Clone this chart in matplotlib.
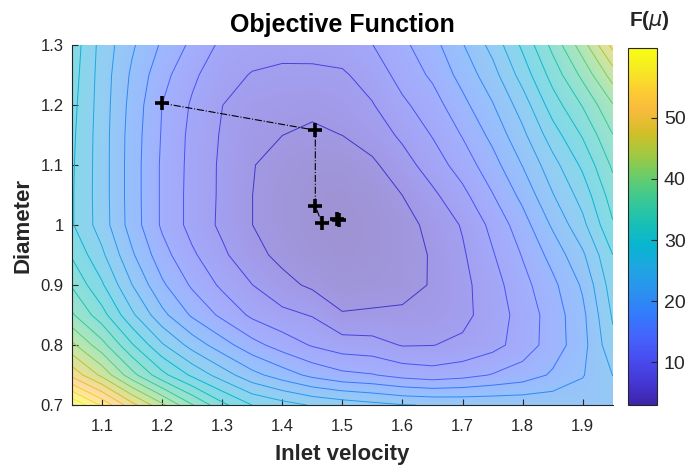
import numpy as np
import matplotlib
matplotlib.use("Agg")
import matplotlib.pyplot as plt
from matplotlib.colors import LinearSegmentedColormap, Normalize
from matplotlib.cm import ScalarMappable

plt.rcParams['font.family'] = ['Liberation Sans', 'DejaVu Sans']

# Sampled objective F(mu) on the (inlet velocity, diameter) grid
velocity = [1.05, 1.10, 1.15, 1.20, 1.25, 1.30, 1.35, 1.40, 1.45, 1.50,
            1.55, 1.60, 1.65, 1.70, 1.75, 1.80, 1.85, 1.90, 1.95]
diameter = [0.70, 0.75, 0.80, 0.85, 0.90, 0.95, 1.00, 1.05, 1.10, 1.15,
            1.20, 1.25, 1.30]

F = [
    [61.4, 55.3, 48.5, 42.6, 36.6, 31.6, 28.0, 26.4, 25.0, 24.1, 23.3, 22.6, 22.3, 22.1, 22.0, 21.9, 21.7, 21.4, 21.2],
    [49.5, 44.0, 37.4, 31.7, 27.5, 23.9, 20.6, 18.3, 16.2, 14.8, 14.3, 13.2, 12.6, 13.2, 14.3, 15.4, 17.3, 19.5, 22.5],
    [42.6, 37.4, 31.1, 25.6, 21.4, 18.1, 15.1, 12.9, 11.1, 9.9, 9.6, 8.4, 8.5, 9.1, 10.4, 12.6, 15.4, 18.7, 24.5],
    [36.8, 31.9, 25.8, 20.5, 16.5, 13.5, 10.8, 9.3, 8.4, 6.0, 6.2, 6.3, 6.6, 7.8, 9.9, 12.4, 15.4, 19.0, 25.6],
    [33.3, 28.4, 22.5, 17.4, 13.7, 10.8, 8.6, 6.6, 5.3, 4.2, 4.4, 4.8, 6.0, 7.8, 10.2, 13.2, 16.2, 20.1, 26.7],
    [30.5, 25.8, 20.1, 15.2, 11.8, 9.1, 6.6, 5.1, 3.9, 3.3, 3.7, 4.7, 6.0, 8.2, 11.1, 14.3, 17.9, 22.0, 28.0],
    [28.3, 23.9, 18.4, 13.7, 10.4, 8.0, 5.8, 4.4, 3.4, 3.0, 3.6, 4.7, 6.6, 8.8, 12.1, 15.7, 20.1, 24.5, 30.5],
    [28.3, 23.8, 18.3, 13.7, 10.4, 8.1, 5.8, 4.4, 3.6, 3.3, 4.0, 5.8, 8.0, 10.6, 14.0, 17.7, 22.3, 26.4, 32.2],
    [28.4, 23.8, 18.3, 13.7, 10.5, 8.1, 5.9, 4.8, 4.1, 4.1, 5.3, 7.4, 9.9, 12.6, 15.8, 19.8, 24.2, 28.6, 34.1],
    [28.6, 23.8, 18.4, 13.9, 10.6, 8.3, 6.3, 5.8, 5.3, 5.8, 7.0, 9.1, 11.5, 14.3, 17.7, 21.8, 26.7, 31.1, 36.3],
    [28.9, 23.9, 18.7, 14.1, 11.0, 8.6, 7.1, 6.7, 6.4, 7.0, 8.4, 10.8, 12.9, 16.1, 19.5, 23.8, 29.4, 33.8, 39.0],
    [29.3, 24.0, 19.2, 15.1, 11.9, 9.5, 8.4, 8.1, 8.0, 8.2, 9.7, 12.4, 14.6, 17.9, 21.4, 26.4, 31.9, 37.1, 43.2],
    [29.7, 24.2, 20.1, 16.5, 13.5, 10.7, 9.7, 9.3, 9.5, 9.9, 11.3, 13.5, 15.9, 19.5, 23.4, 28.6, 34.4, 40.7, 48.4],
]

# Optimizer iterates
path_v = [1.200, 1.455, 1.455, 1.466, 1.491, 1.494]
path_d = [1.203, 1.158, 1.032, 1.003, 1.010, 1.008]

n_levels = 20

# parula
parula_rgb = [
    (0.2422, 0.1504, 0.6603), (0.2706, 0.2147, 0.8364), (0.2813, 0.3006, 0.9414),
    (0.2699, 0.3892, 0.9906), (0.1963, 0.4847, 0.9892), (0.1687, 0.5703, 0.9359),
    (0.1248, 0.6459, 0.8883), (0.0297, 0.7082, 0.8163), (0.0964, 0.7500, 0.7120),
    (0.2161, 0.7843, 0.5923), (0.3909, 0.8029, 0.4354), (0.6174, 0.7876, 0.2612),
    (0.8203, 0.7498, 0.1535), (0.9728, 0.7298, 0.2394), (0.9892, 0.8136, 0.1885),
    (0.9628, 0.9373, 0.1265), (0.9769, 0.9839, 0.0805),
]
parula_pos = [0, 4, 8, 12, 16, 20, 24, 28, 32, 36, 40, 44, 48, 52, 56, 60, 63]
parula = LinearSegmentedColormap.from_list(
    'parula', [(p / 63, c) for p, c in zip(parula_pos, parula_rgb)])

V, D = np.meshgrid(velocity, diameter)
Z = np.array(F)
f_min, f_max = Z.min(), Z.max()
norm = Normalize(vmin=f_min, vmax=f_max)
levels = np.linspace(f_min, f_max, n_levels + 2)[1:-1]

fig = plt.figure(figsize=(6.9, 4.71), dpi=100)
ax = fig.add_axes([0.1043, 0.140, 0.7837, 0.7645])

# smooth translucent surface underneath the contour lines
dv = (velocity[1] - velocity[0]) / 2
dd = (diameter[1] - diameter[0]) / 2
ax.imshow(Z, cmap=parula, norm=norm, origin='lower', aspect='auto',
          interpolation='bilinear', alpha=0.5,
          extent=[velocity[0] - dv, velocity[-1] + dv, diameter[0] - dd, diameter[-1] + dd])
ax.contour(V, D, Z, levels=levels, cmap=parula, norm=norm, linewidths=0.7)

ax.plot(path_v, path_d, color='k', linestyle='-.', linewidth=0.8)
ax.plot(path_v, path_d, 'k+', markersize=10, markeredgewidth=2.6)

ax.set_xlim(1.05, 1.95)
ax.set_ylim(0.7, 1.3)
ax.set_xticks([1.1, 1.2, 1.3, 1.4, 1.5, 1.6, 1.7, 1.8, 1.9])
ax.set_yticks([0.7, 0.8, 0.9, 1.0, 1.1, 1.2, 1.3])
ax.set_yticklabels(['0.7', '0.8', '0.9', '1', '1.1', '1.2', '1.3'])
for side in ['top', 'right']:
    ax.spines[side].set_visible(False)
for side in ['left', 'bottom']:
    ax.spines[side].set_color('#262626')
    ax.spines[side].set_linewidth(0.8)
ax.tick_params(direction='in', length=4, width=0.8, colors='#262626',
               labelsize=12, labelcolor='#262626')
ax.tick_params(axis='x', pad=10)
ax.tick_params(axis='y', pad=6)

ax.set_title('Objective Function', fontsize=18, fontweight='bold', pad=9)
ax.set_xlabel('Inlet velocity', fontsize=16, fontweight='bold', color='#262626', labelpad=7)
ax.set_ylabel('Diameter', fontsize=16, fontweight='bold', color='#262626', labelpad=5)

cax = fig.add_axes([0.910, 0.140, 0.042, 0.758])
cb = fig.colorbar(ScalarMappable(norm=norm, cmap=parula), cax=cax)
cb.set_ticks([10, 20, 30, 40, 50])
cb.outline.set_edgecolor('#262626')
cb.outline.set_linewidth(0.8)
cax.tick_params(direction='in', length=4, width=0.8, colors='#262626',
                labelsize=14, labelcolor='#262626', pad=5)
fig.text(0.9406, 0.9575, r'F($\mu$)', fontsize=15, fontweight='bold',
         ha='center', va='center', color='#262626')

fig.savefig('out.png', dpi=100)
